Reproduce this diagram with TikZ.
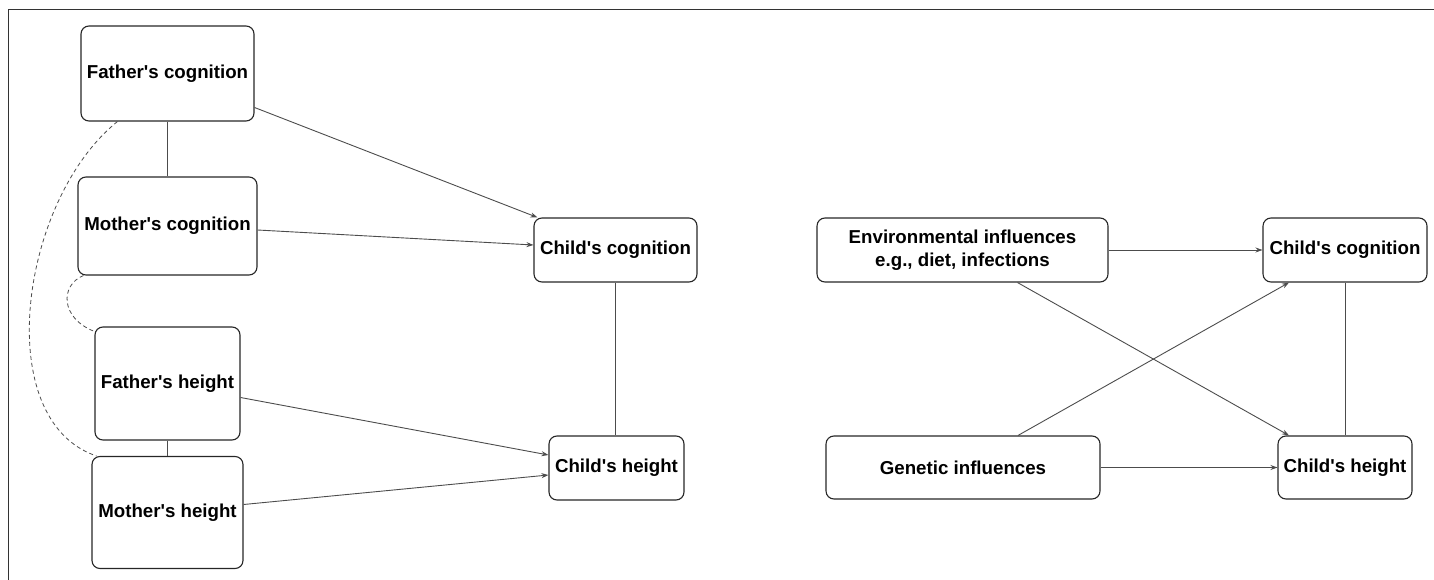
\documentclass[tikz,border=0pt]{standalone}
\usepackage{fontspec}
\setmainfont{Liberation Sans}
\usetikzlibrary{positioning, arrows.meta}
\newcommand{\ap}{\textquotesingle}

\begin{document}
\begin{tikzpicture}[x=1pt, y=-1pt]
            % Block styles
            \tikzstyle{block} = [rectangle, draw=black!85, line width=1.1pt, rounded corners=8pt, align=center, inner sep=2pt, font=\fontsize{18.7}{22.5}\selectfont\bfseries]
            \tikzstyle{link} = [draw=black!70, line width=0.9pt]
            \tikzstyle{arrw} = [link, -{Stealth[length=7pt, width=5pt]}]
            \tikzstyle{assoc} = [draw=black!70, line width=0.8pt, dash pattern=on 4pt off 3pt]
            \useasboundingbox (0,0) rectangle (1434,580);
            % Frame
            \draw[black!80, line width=1pt] (8,580) -- (8,10) -- (1434,10);
            % Parents
            \node[block, minimum width=173pt, minimum height=95pt] (father_cog) at (167.5,73.5) {Father\ap s cognition};
            \node[block, minimum width=179pt, minimum height=98pt] (mother_cog) at (167.5,226) {Mother\ap s cognition};
            \node[block, minimum width=145pt, minimum height=113pt] (father_height) at (167.5,383.5) {Father\ap s height};
            \node[block, minimum width=151pt, minimum height=112pt] (mother_height) at (167.5,512.5) {Mother\ap s height};
            % Children
            \node[block, minimum width=163pt, minimum height=64pt] (child_cog) at (615.5,250) {Child\ap s cognition};
            \node[block, minimum width=135pt, minimum height=64pt] (child_height) at (616.5,468) {Child\ap s height};
            % Influences
            \node[block, minimum width=291pt, minimum height=64pt] (env) at (962.5,250) {Environmental influences\\e.g., diet, infections};
            \node[block, minimum width=274pt, minimum height=63pt] (genetic) at (963,467.5) {Genetic influences};
            \node[block, minimum width=164pt, minimum height=64pt] (child_cog_r) at (1345,250) {Child\ap s cognition};
            \node[block, minimum width=134pt, minimum height=63pt] (child_height_r) at (1345,467.5) {Child\ap s height};
            % Connections
            \draw[link] (father_cog) -- (mother_cog);
            \draw[link] (father_height) -- (mother_height);
            \draw[link] (child_cog) -- (child_cog |- child_height.north);
            \draw[link] (child_cog_r) -- (child_height_r);
            \draw[arrw] ([yshift=-34pt]father_cog.east) -- ([xshift=4pt]child_cog.north west);
            \draw[arrw] ([yshift=-4pt]mother_cog.east) -- ([yshift=5pt]child_cog.west);
            \draw[arrw] ([yshift=-14pt]father_height.east) -- ([yshift=13pt]child_height.west);
            \draw[arrw] ([yshift=8pt]mother_height.east) -- ([yshift=-7pt]child_height.west);
            \draw[arrw] (env) -- (child_cog_r);
            \draw[arrw] (genetic) -- (child_height_r);
            \draw[arrw] ([xshift=55pt]env.south) -- ([xshift=-56pt]child_height_r.north);
            \draw[arrw] ([xshift=55pt]genetic.north) -- ([xshift=-56pt]child_cog_r.south);
            % Dashed associations
            \draw[assoc] ([xshift=37pt]father_cog.south west) .. controls (20,200) and (-10,420) .. ([xshift=5pt]mother_height.north west);
            \draw[assoc] ([xshift=6pt]mother_cog.south west) .. controls (60,285) and (60,318) .. ([yshift=-5pt]father_height.north west);
        \end{tikzpicture}
\end{document}
